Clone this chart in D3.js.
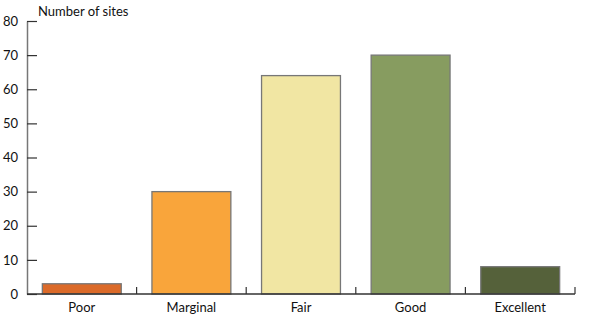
<!DOCTYPE html>
<html>
<head>
<meta charset="utf-8">
<script src="https://cdn.jsdelivr.net/npm/d3@7"></script>
<style>
  body { margin: 0; background: #fff; }
  text { font-family: "Lato", "Open Sans", sans-serif; }
</style>
</head>
<body>
<div id="chart"></div>
<script>
var categories = ["Poor", "Marginal", "Fair", "Good", "Excellent"];
var siteCounts = [3, 30, 64, 70, 8];
var barColors = ["#db6a29", "#f9a53b", "#f1e6a3", "#879c60", "#55613a"];
var yTicks = [0, 10, 20, 30, 40, 50, 60, 70, 80];

var width = 600;
var height = 320;
var margin = {top: 21, right: 25, bottom: 26, left: 27};

var data = categories.map((c, i) => ({name: c, value: siteCounts[i], color: barColors[i]}));

var xScale = d3.scaleBand()
    .domain(categories)
    .range([margin.left, width - margin.right])
    .paddingInner(0.28)
    .paddingOuter(0.14);

var yScale = d3.scaleLinear()
    .domain([0, 80])
    .range([height - margin.bottom, margin.top]);

var svg = d3.select("#chart")
    .append("svg")
    .attr("width", width)
    .attr("height", height);

svg.selectAll("rect")
    .data(data)
    .join("rect")
    .attr("x", d => xScale(d.name))
    .attr("y", d => yScale(d.value))
    .attr("width", xScale.bandwidth())
    .attr("height", d => yScale(0) - yScale(d.value))
    .attr("fill", d => d.color)
    .attr("stroke", "#777")
    .attr("stroke-width", 1.3);

// y axis, ticks pointing inward
var yAxis = svg.append("g")
    .attr("transform", `translate(${margin.left},0)`)
    .call(d3.axisRight(yScale).tickValues(yTicks).tickSize(10).tickSizeOuter(0).tickFormat(d3.format("d")));
yAxis.select(".domain").attr("stroke", "#777").attr("stroke-width", 1.5);
yAxis.selectAll(".tick line").attr("stroke", "#333").attr("stroke-width", 1.2);
yAxis.selectAll(".tick text")
    .attr("x", -9)
    .attr("text-anchor", "end")
    .attr("font-size", 13)
    .attr("fill", "#111");

// x axis: baseline plus small ticks at the category boundaries
var edges = categories.map(c => xScale(c) + xScale.bandwidth() + xScale.step() * xScale.paddingInner() / 2);

svg.append("line")
    .attr("x1", margin.left)
    .attr("x2", width - margin.right)
    .attr("y1", yScale(0))
    .attr("y2", yScale(0))
    .attr("stroke", "#333")
    .attr("stroke-width", 1.3);

svg.selectAll(".xtick")
    .data(edges)
    .join("line")
    .attr("class", "xtick")
    .attr("x1", d => d)
    .attr("x2", d => d)
    .attr("y1", yScale(0))
    .attr("y2", yScale(0) - 7)
    .attr("stroke", "#333")
    .attr("stroke-width", 1.2);

svg.selectAll(".xlabel")
    .data(categories)
    .join("text")
    .attr("class", "xlabel")
    .attr("x", d => xScale(d) + xScale.bandwidth() / 2)
    .attr("y", 312)
    .attr("text-anchor", "middle")
    .attr("font-size", 13)
    .attr("fill", "#111")
    .text(d => d);

svg.append("text")
    .attr("x", 38)
    .attr("y", 16)
    .attr("font-size", 13)
    .attr("fill", "#111")
    .text("Number of sites");
</script>
</body>
</html>
